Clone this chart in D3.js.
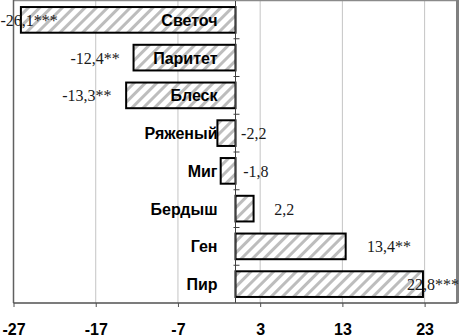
<!DOCTYPE html>
<html><head><meta charset="utf-8">
<script src="https://cdn.jsdelivr.net/npm/d3@7"></script>
<style>html,body{margin:0;padding:0;background:#fff;overflow:hidden}</style>
</head><body>
<svg id="c" width="459" height="335"></svg>
<script>
// data
const categories = ["Светоч","Паритет","Блеск","Ряженый","Миг","Бердыш","Ген","Пир"];
const values = [-26.1,-12.4,-13.3,-2.2,-1.8,2.2,13.4,22.8];
const valueLabels = ["-26,1***","-12,4**","-13,3**","-2,2","-1,8","2,2","13,4**","22,8***"];
const tickValues = [-27,-17,-7,3,13,23];

// label placement (px, from bar tip, text start)
const labelDx = [-20.5,-63,-64,23.7,22.5,20.6,21.4,-16];

const svg = d3.select("#c");
const pL=13.5,pR=457.5,pT=1,pB=303;
const x = d3.scaleLinear().domain([-27,27]).range([pL,pR]);
const y = d3.scaleBand().domain(categories).range([pT,pB]).padding(0);
const bh = y.bandwidth()*0.68;

const defs = svg.append("defs");
const pat = defs.append("pattern").attr("id","hatch").attr("patternUnits","userSpaceOnUse")
  .attr("width",8).attr("height",8).attr("patternTransform","rotate(45)");
pat.append("rect").attr("width",8).attr("height",8).attr("fill","#fff");
pat.append("rect").attr("x",0).attr("y",0).attr("width",3).attr("height",8).attr("fill","#bdbdbd");

// gridlines
svg.append("g").selectAll("line").data(tickValues.slice(1)).join("line")
  .attr("x1",d=>x(d)).attr("x2",d=>x(d)).attr("y1",pT).attr("y2",pB)
  .attr("stroke","#c4c4c4").attr("stroke-width",1);

// plot borders
svg.append("line").attr("x1",pL).attr("x2",pR).attr("y1",0.5).attr("y2",0.5).attr("stroke","#8a8a8a").attr("stroke-width",1.5);
svg.append("line").attr("x1",pR).attr("x2",pR).attr("y1",0).attr("y2",pB).attr("stroke","#808080").attr("stroke-width",3);
svg.append("line").attr("x1",pL).attr("x2",pL).attr("y1",0).attr("y2",pB).attr("stroke","#606060").attr("stroke-width",1.5);

// bars
svg.append("g").selectAll("rect").data(values).join("rect")
  .attr("x",d=>x(Math.min(0,d)))
  .attr("width",d=>Math.abs(x(d)-x(0)))
  .attr("y",(d,i)=>y(categories[i])+(y.bandwidth()-bh)/2)
  .attr("height",bh)
  .attr("fill","url(#hatch)").attr("stroke","#000").attr("stroke-width",2);

// y axis at zero with small ticks
svg.append("line").attr("x1",x(0)).attr("x2",x(0)).attr("y1",pT).attr("y2",pB).attr("stroke","#404040").attr("stroke-width",1);
svg.append("g").selectAll("line").data(categories.slice(1)).join("line")
  .attr("x1",x(0)-2).attr("x2",x(0)+4).attr("y1",d=>y(d)).attr("y2",d=>y(d))
  .attr("stroke","#404040").attr("stroke-width",1);

// category labels
svg.append("g").selectAll("text").data(categories).join("text")
  .attr("x",x(0)-18).attr("y",d=>y(d)+y.bandwidth()/2+6)
  .attr("text-anchor","end")
  .attr("font-family","Liberation Sans, Arial, sans-serif").attr("font-weight","bold").attr("font-size",16)
  .attr("fill","#000").text(d=>d);

// value labels
svg.append("g").selectAll("text").data(values).join("text")
  .attr("x",(d,i)=>x(d)+labelDx[i]).attr("y",(d,i)=>y(categories[i])+y.bandwidth()/2+6)
  .attr("font-family","Liberation Serif, Times New Roman, serif").attr("font-size",16)
  .attr("fill","#1a1a1a").text((d,i)=>valueLabels[i]);

// x axis
const xAxis = d3.axisBottom(x).tickValues(tickValues).tickSize(4).tickPadding(17)
  .tickFormat(d=>d);
const gx = svg.append("g").attr("transform",`translate(0,${pB})`).call(xAxis);
gx.select(".domain").attr("stroke","#505050").attr("stroke-width",1.5).attr("d",`M${pL},0H${pR}`);
gx.selectAll(".tick line").attr("stroke","#505050");
gx.selectAll(".tick text").attr("font-family","Liberation Sans, Arial, sans-serif")
  .attr("font-weight","bold").attr("font-size",16).attr("fill","#000");
</script>
</body></html>
